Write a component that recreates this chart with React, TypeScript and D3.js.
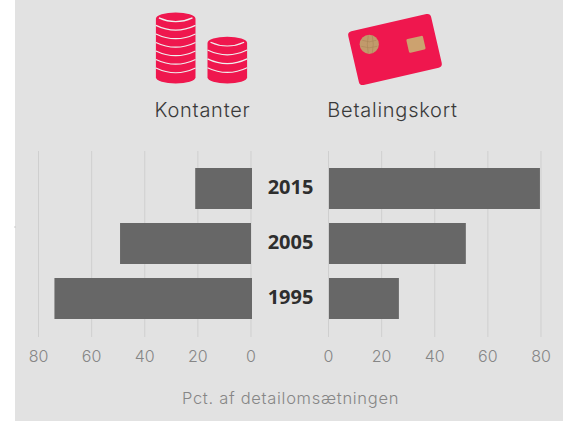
import React from "react";
import * as d3 from "d3";

const years = ["2015", "2005", "1995"];
const cash = [21, 49.3, 74];
const card = [79.6, 51.7, 26.5];
const ticks = [0, 20, 40, 60, 80];

const xL = d3.scaleLinear().domain([0, 80]).range([251, 38.5]);
const xR = d3.scaleLinear().domain([0, 80]).range([328.5, 541]);
const y = d3.scaleBand().domain(years).range([168, 319]).paddingInner(14 / 55).paddingOuter(0);

const FONT = "Inter, Lato, sans-serif";
const RED = "#ef174e";

function Stack({ cx, top, bottom, layers }: { cx: number; top: number; bottom: number; layers: number }) {
  const rx = 19.8, ry = 6.2;
  const step = (bottom - top - 2 * ry + 1) / layers;
  const arcs = d3.range(layers).map((i) => top + 2 * ry - 3 + i * step);
  return (
    <g>
      <path
        d={`M${cx - rx},${top + ry} A${rx},${ry} 0 0 1 ${cx + rx},${top + ry} L${cx + rx},${bottom - ry} A${rx},${ry} 0 0 1 ${cx - rx},${bottom - ry} Z`}
        fill={RED}
      />
      {arcs.map((a, i) => (
        <path
          key={i}
          d={i === 0
            ? `M${cx - rx + 3},${a - 4} Q${cx},${a + 3.6} ${cx + rx - 3},${a - 4}`
            : `M${cx - rx},${a - 5} Q${cx},${a + 4.5} ${cx + rx},${a - 5}`}
          fill="none"
          stroke="#efefef"
          strokeWidth={1.2}
        />
      ))}
    </g>
  );
}

export default function App() {
  return (
    <svg width={563} height={421} style={{ position: "absolute", left: 0, top: 0 }} fontFamily={FONT}>
      <rect x={0} y={0} width={563} height={421} fill="#ffffff" />
      <rect x={15} y={0} width={548} height={421} fill="#e2e2e2" />
      <line x1={14} x2={16} y1={227} y2={227} stroke="#cccccc" strokeWidth={1} />

      <Stack cx={175.7} top={12.5} bottom={83.5} layers={7} />
      <Stack cx={227.3} top={36.8} bottom={83.5} layers={4} />

      <g transform="translate(395,49.5) rotate(-13)">
        <rect x={-42.5} y={-27.5} width={85} height={55} rx={4} fill={RED} />
        <g transform="translate(-23.9,-10.85) rotate(13)">
          <circle cx={0} cy={0} r={9.6} fill="#c19a6b" />
          <path d="M-7,-4 Q0,-1 7,-4 M-8,2 Q0,5 8,2 M-1,-9 Q-3,0 -1,9 M3,-9 Q5,0 3,9" fill="none" stroke="#a98558" strokeWidth={0.6} />
        </g>
        <g transform="translate(21.6,-0.35)">
          <rect x={-8.5} y={-7} width={17} height={14} rx={1.5} fill="#cca26f" />
        </g>
      </g>

      <text x={202.5} y={117} textAnchor="middle" fontSize={20} fontWeight={300} fill="#3a3a3a" letterSpacing={0.75}>Kontanter</text>
      <text x={392.5} y={117} textAnchor="middle" fontSize={20} fontWeight={300} fill="#3a3a3a" letterSpacing={0.75}>Betalingskort</text>

      {ticks.map((t) => (
        <g key={t}>
          <line x1={xL(t)} x2={xL(t)} y1={151} y2={337} stroke="#cfcfcf" strokeWidth={1} />
          <line x1={xR(t)} x2={xR(t)} y1={151} y2={337} stroke="#cfcfcf" strokeWidth={1} />
          <text x={xL(t)} y={362} textAnchor="middle" fontSize={16} fontWeight={300} fill="#868686">{t}</text>
          <text x={xR(t)} y={362} textAnchor="middle" fontSize={16} fontWeight={300} fill="#868686">{t}</text>
        </g>
      ))}

      {years.map((yr, i) => {
        const yy = y(yr)!;
        const h = y.bandwidth();
        return (
          <g key={yr}>
            <rect x={xL(cash[i])} y={yy} width={xL(0) + (i === 1 ? 0 : 1) - xL(cash[i])} height={h} fill="#676767" />
            <rect x={xR(0) + 0.5} y={yy} width={xR(card[i]) - xR(0) - 0.5} height={h} fill="#676767" />
            <text x={290.5} y={yy + h / 2 + 5.8} textAnchor="middle" fontSize={20} fontWeight={700} fontFamily="'Open Sans', sans-serif" fill="#2e2e2e">{yr}</text>
          </g>
        );
      })}

      <text x={290.5} y={404} textAnchor="middle" fontSize={16.5} fontWeight={300} fill="#868686" letterSpacing={0.7}>Pct. af detailomsætningen</text>
    </svg>
  );
}
